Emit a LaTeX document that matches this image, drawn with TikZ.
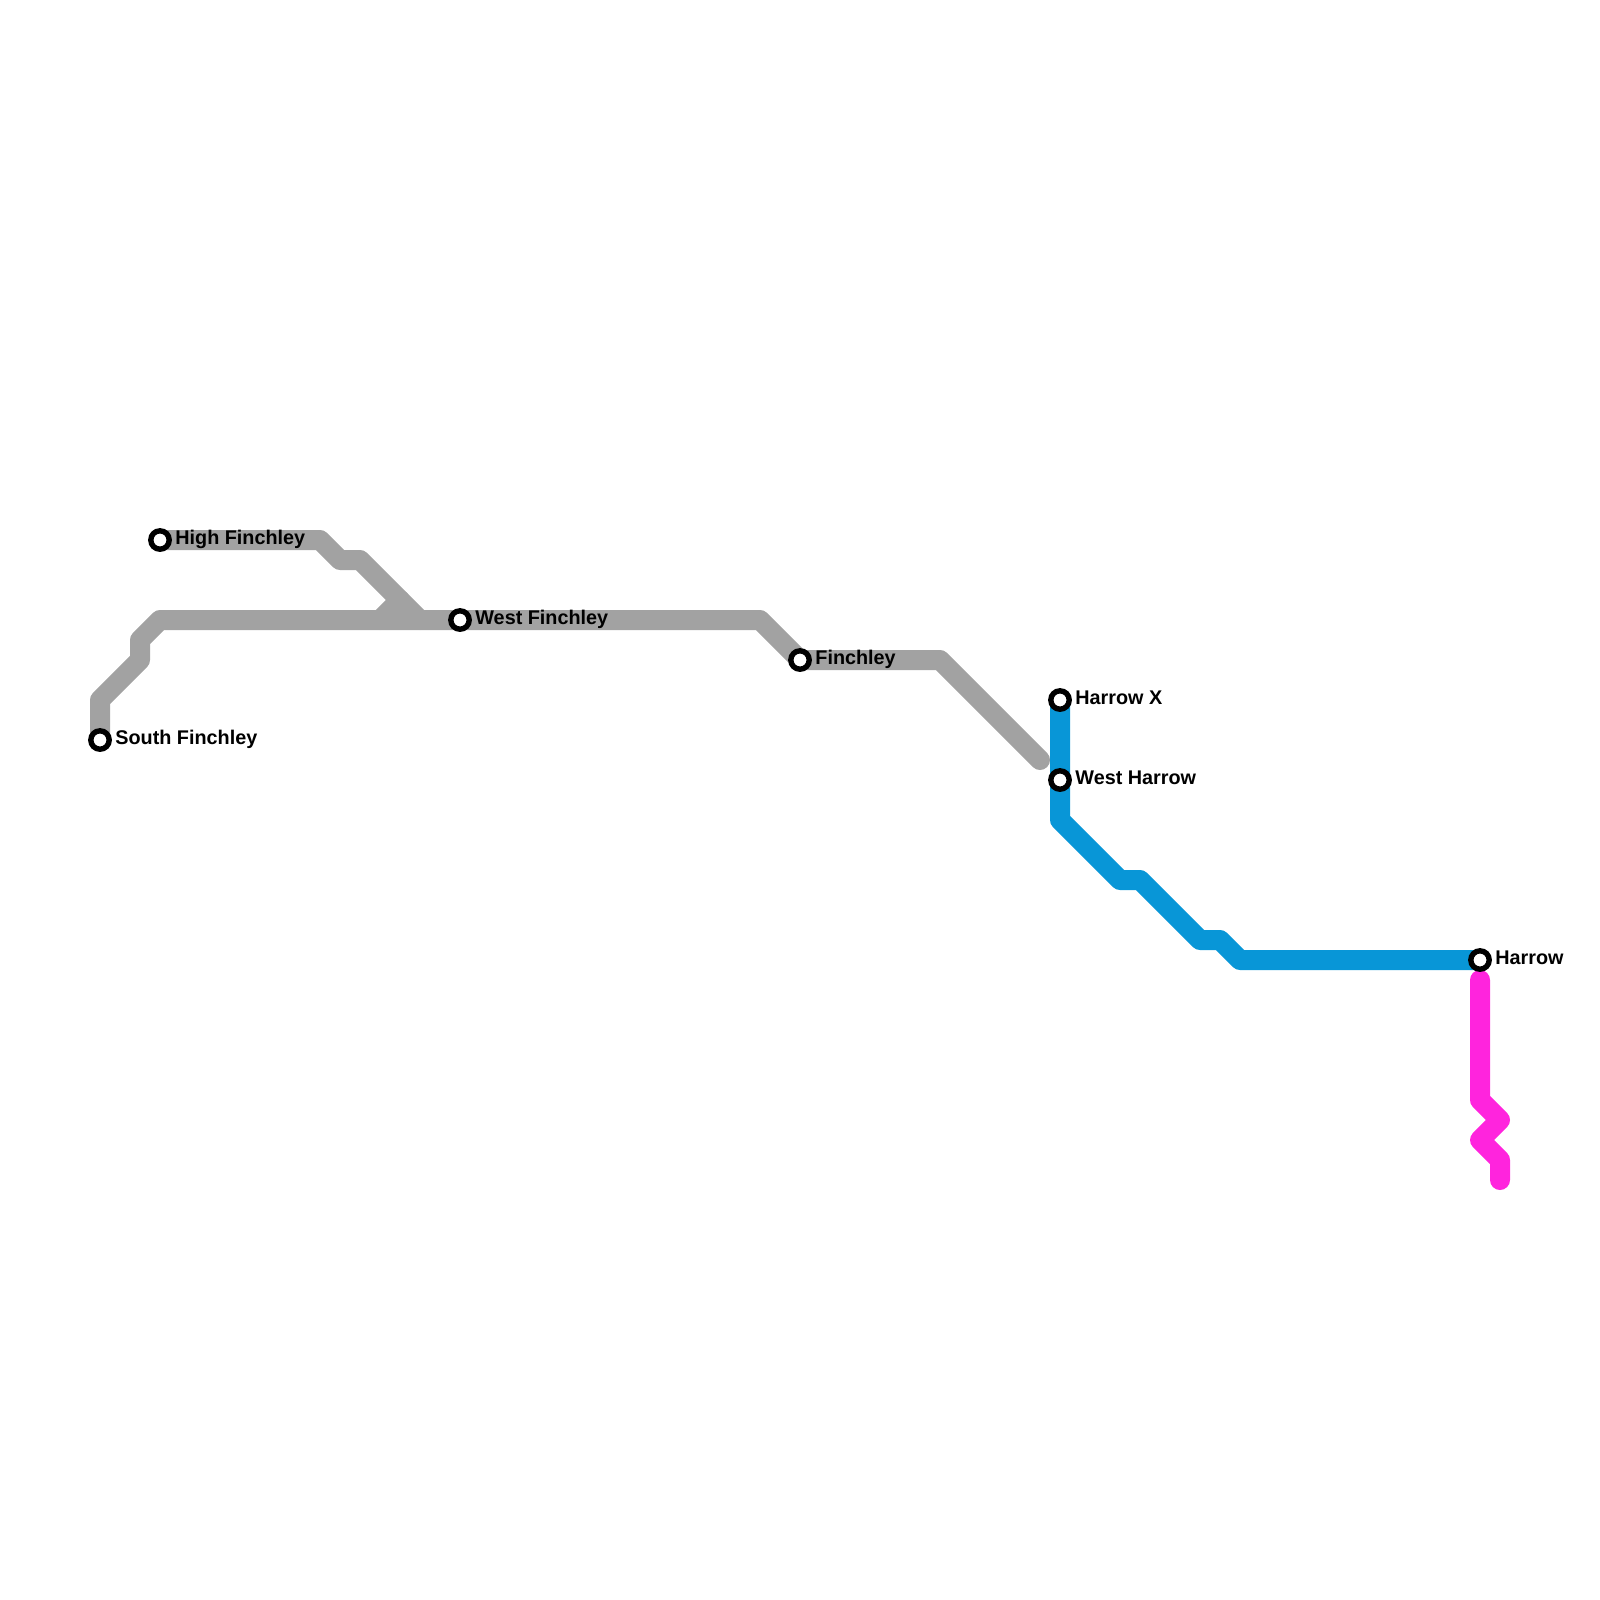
\documentclass[tikz,border=0pt]{standalone}
\usepackage{fontspec}
\setmainfont{Liberation Sans}
\definecolor{greyline}{HTML}{A2A2A2}
\definecolor{blueline}{HTML}{0896D7}
\definecolor{pinkline}{HTML}{FF24DD}
\tikzset{
  x=0.5pt,y=-0.5pt,
  metro/.style={line width=10pt,line cap=round,line join=round},
  station/.style={circle,draw=black,fill=white,line width=2.7pt,inner sep=0pt,minimum size=9.2pt},
  stationlabel/.style={anchor=base west,inner sep=0pt,font=\fontsize{9.9pt}{11pt}\selectfont\bfseries,text=black}
}
\begin{document}
\begin{tikzpicture}
\useasboundingbox (0,0) rectangle (1600,1600);
% way points
\coordinate (pSF) at (100,740);
\coordinate (pHF) at (160,540);
\coordinate (pWF) at (460,620);
\coordinate (pF) at (800,660);
\coordinate (pHX) at (1060,700);
\coordinate (pWH) at (1060,780);
\coordinate (pH) at (1480,960);
\coordinate (g1) at (100,700);
\coordinate (g2) at (140,660);
\coordinate (g3) at (140,640);
\coordinate (g4) at (160,620);
\coordinate (g5) at (760,620);
\coordinate (g6) at (940,660);
\coordinate (g7) at (1040,760);
\coordinate (h1) at (320,540);
\coordinate (h2) at (340,560);
\coordinate (h3) at (360,560);
\coordinate (h4) at (420,620);
\coordinate (j1) at (380,620);
\coordinate (j2) at (400,600);
\coordinate (b1) at (1060,820);
\coordinate (b2) at (1120,880);
\coordinate (b3) at (1140,880);
\coordinate (b4) at (1200,940);
\coordinate (b5) at (1220,940);
\coordinate (b6) at (1240,960);
\coordinate (m0) at (1480,980);
\coordinate (m1) at (1480,1100);
\coordinate (m2) at (1500,1120);
\coordinate (m3) at (1480,1140);
\coordinate (m4) at (1500,1160);
\coordinate (m5) at (1500,1180);
% lines
\draw[metro,greyline] (pSF) -- (g1) -- (g2) -- (g3) -- (g4) -- (pWF) -- (g5) -- (pF) -- (g6) -- (g7);
\draw[metro,greyline] (pHF) -- (h1) -- (h2) -- (h3) -- (h4);
\draw[metro,greyline] (j1) -- (j2);
\draw[metro,blueline] (pHX) -- (pWH) -- (b1) -- (b2) -- (b3) -- (b4) -- (b5) -- (b6) -- (pH);
\draw[metro,pinkline] (m0) -- (m1) -- (m2) -- (m3) -- (m4) -- (m5);
% stations
\node[station] (sSF) at (pSF) {};
\node[station] (sHF) at (pHF) {};
\node[station] (sWF) at (pWF) {};
\node[station] (sF) at (pF) {};
\node[station] (sHX) at (pHX) {};
\node[station] (sWH) at (pWH) {};
\node[station] (sH) at (pH) {};
% labels
\node[stationlabel] (lSF) at (115,744) {South Finchley};
\node[stationlabel] (lHF) at (175,544) {High Finchley};
\node[stationlabel] (lWF) at (475,624) {West Finchley};
\node[stationlabel] (lF) at (815,664) {Finchley};
\node[stationlabel] (lHX) at (1075,704) {Harrow X};
\node[stationlabel] (lWH) at (1075,784) {West Harrow};
\node[stationlabel] (lH) at (1495,964) {Harrow};
\end{tikzpicture}
\end{document}
